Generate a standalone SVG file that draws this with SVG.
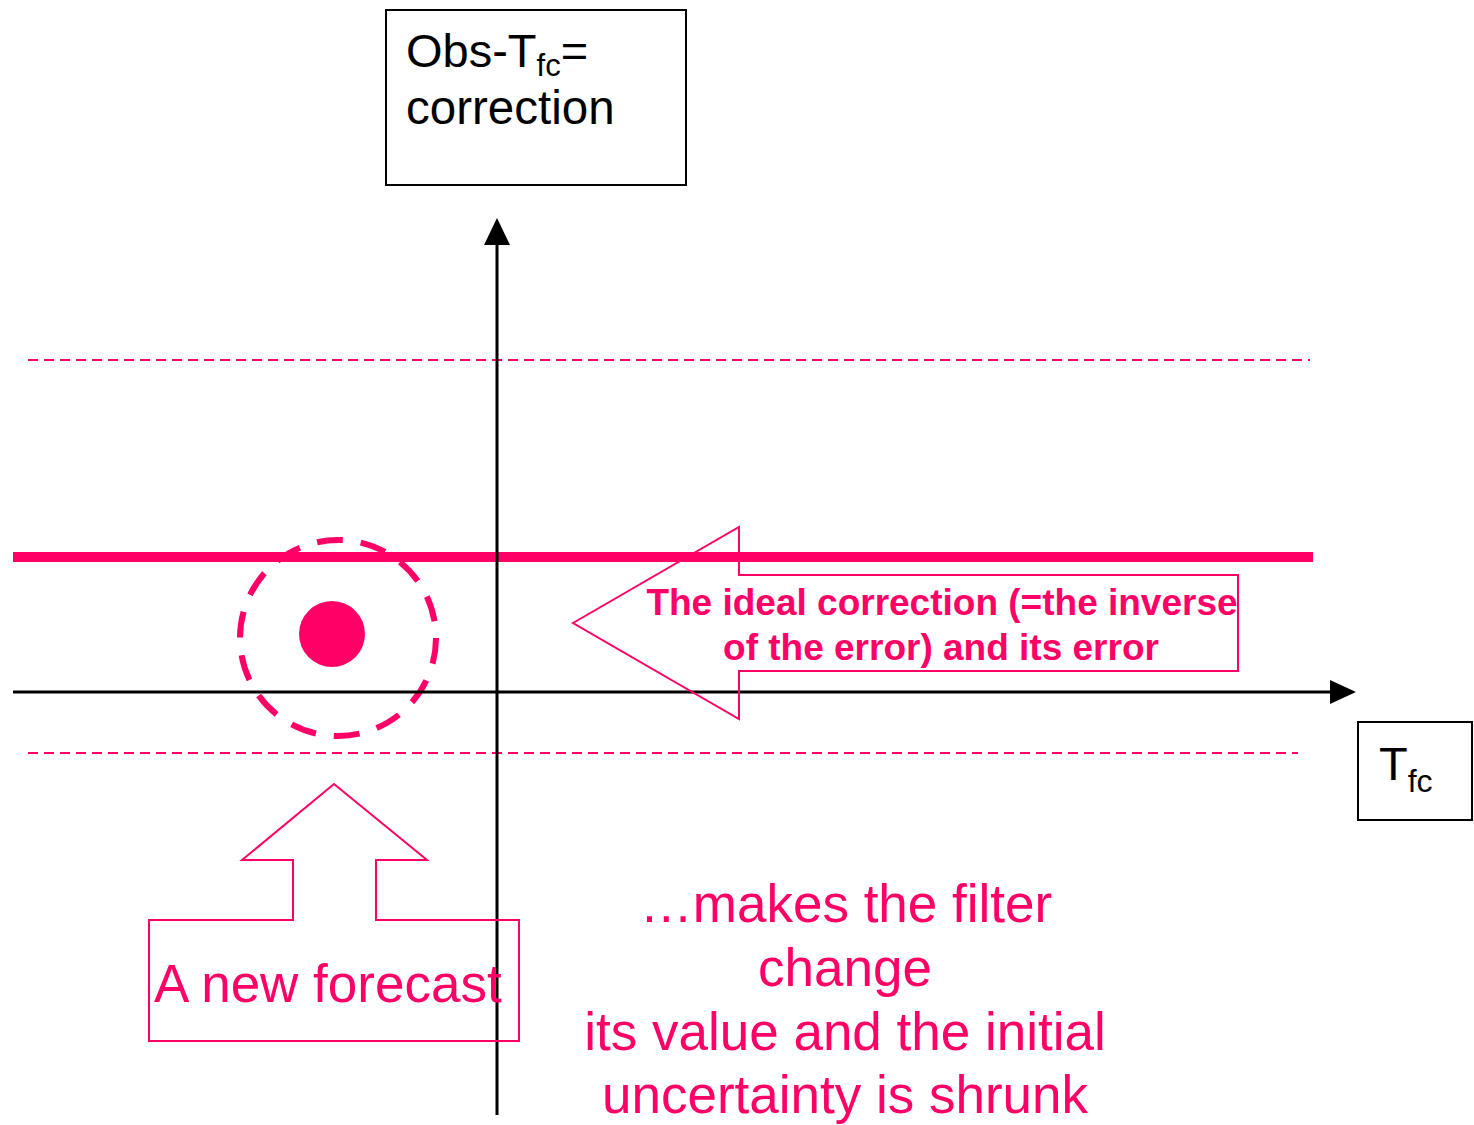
<svg xmlns="http://www.w3.org/2000/svg" width="1474" height="1125" viewBox="0 0 1474 1125">
<style>
  .lbl{font-family:"Liberation Sans",Arial,sans-serif;fill:#000}
  .pk{font-family:"Liberation Sans",Arial,sans-serif;fill:#FF0066}
  .note{font-size:53px;text-anchor:middle}
  .box{fill:#fff;stroke:#000;stroke-width:2}
  .pkline{fill:none;stroke:#FF0066}
  .axis{stroke:#000;stroke-width:3;fill:none}
</style>
<rect width="1474" height="1125" fill="#fff"/>

<g id="bands">
  <line x1="28" y1="360" x2="1310" y2="360" class="pkline" stroke-width="2" stroke-dasharray="10 6"/>
  <line x1="28" y1="753" x2="1298" y2="753" class="pkline" stroke-width="2" stroke-dasharray="10 6"/>
  <line x1="13" y1="557" x2="1313" y2="557" class="pkline" stroke-width="10"/>
</g>

<g id="uncertainty">
  <circle cx="338" cy="638" r="98" class="pkline" stroke-width="6" stroke-dasharray="26 18"/>
  <circle cx="332" cy="634" r="33" fill="#FF0066"/>
</g>

<g id="connectors">
  <line x1="497" y1="1115" x2="497" y2="244" class="axis"/>
  <polygon points="497,218 484,245 510,245" fill="#000"/>
  <line x1="13" y1="692" x2="1330" y2="692" class="axis"/>
  <polygon points="1356,692 1330,680 1330,704" fill="#000"/>
</g>

<g id="ylabel">
  <rect x="386" y="10" width="300" height="175" class="box"/>
  <text class="lbl" x="406" y="67" font-size="47">Obs-T<tspan font-size="31" dy="9">fc</tspan><tspan dy="-9">=</tspan></text>
  <text class="lbl" x="406" y="124" font-size="47.5">correction</text>
</g>

<g id="xlabel">
  <rect x="1358" y="722" width="114" height="98" class="box"/>
  <text class="lbl" x="1379" y="780" font-size="47">T<tspan font-size="32" dy="12">fc</tspan></text>
</g>

<g id="correction">
  <polygon points="573,623 739,527 739,575 1238,575 1238,671 739,671 739,719" fill="none" stroke="#FF0066" stroke-width="2"/>
  <text class="pk" x="942" y="615" font-size="37" font-weight="bold" text-anchor="middle">The ideal correction (=the inverse</text>
  <text class="pk" x="941" y="660" font-size="37" font-weight="bold" text-anchor="middle">of the error) and its error</text>
</g>

<g id="forecast">
  <polygon points="149,920 293,920 293,860 242,860 334,784 427,860 376,860 376,920 519,920 519,1041 149,1041" fill="none" stroke="#FF0066" stroke-width="2"/>
  <text class="pk" x="154" y="1002" font-size="53">A new forecast</text>
</g>

<g id="note">
  <text class="pk note" x="846" y="922">…makes the filter</text>
  <text class="pk note" x="845" y="986">change</text>
  <text class="pk note" x="845" y="1050">its value and the initial</text>
  <text class="pk note" x="845" y="1113">uncertainty is shrunk</text>
</g>
</svg>
